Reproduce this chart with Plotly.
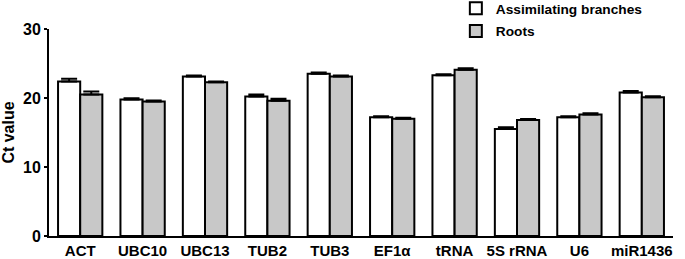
import plotly.graph_objects as go

categories = ["ACT", "UBC10", "UBC13", "TUB2", "TUB3", "EF1α", "tRNA", "5S rRNA", "U6", "miR1436"]
assim = [22.4, 19.8, 23.1, 20.2, 23.5, 17.2, 23.3, 15.5, 17.2, 20.8]
assim_err = [0.4, 0.15, 0.15, 0.3, 0.2, 0.15, 0.15, 0.25, 0.15, 0.2]
roots = [20.5, 19.5, 22.3, 19.6, 23.1, 17.0, 24.1, 16.8, 17.6, 20.1]
roots_err = [0.45, 0.15, 0.1, 0.3, 0.15, 0.15, 0.2, 0.15, 0.2, 0.15]
yticks = [0, 10, 20, 30]

font_family = "Liberation Sans, Arial, sans-serif"

fig = go.Figure()
fig.add_trace(go.Bar(
    name="Assimilating branches", x=categories, y=assim, legendgroup="a",
    marker=dict(color="white", line=dict(color="black", width=2)),
    error_y=dict(type="data", array=assim_err, symmetric=False, arrayminus=[0]*len(assim_err),
                 color="black", thickness=2, width=8),
))
fig.add_trace(go.Bar(
    name="Roots", x=categories, y=roots, legendgroup="b",
    marker=dict(color="#c8c8c8", line=dict(color="black", width=2)),
    error_y=dict(type="data", array=roots_err, symmetric=False, arrayminus=[0]*len(roots_err),
                 color="black", thickness=2, width=8),
))

fig.update_layout(
    width=685, height=259,
    margin=dict(l=49, r=12, t=29, b=23, autoexpand=False),
    paper_bgcolor="white", plot_bgcolor="white",
    barmode="group", bargap=0.29, bargroupgap=0,
    font=dict(family=font_family, size=15, color="black"),
    showlegend=True,
    legend=dict(x=0.652, y=1.175, xanchor="left", yanchor="top",
                bgcolor="rgba(0,0,0,0)", font=dict(size=13.7, family=font_family, weight="bold"),
                tracegroupgap=2, itemwidth=30),
)
fig.update_xaxes(
    range=[-0.5, 9.5], showline=True, linecolor="black", linewidth=2,
    ticks="", tickfont=dict(size=15, family=font_family, weight="bold"),
    showgrid=False, zeroline=False, automargin=False,
)
fig.update_yaxes(
    range=[0, 30], tickvals=yticks, showline=True, linecolor="black", linewidth=2,
    ticks="outside", ticklen=3, tickwidth=2, tickcolor="black",
    tickfont=dict(size=16, family=font_family, weight="bold"),
    title=dict(text="Ct value", font=dict(size=16, family=font_family, weight="bold"), standoff=10),
    showgrid=False, zeroline=False, automargin=False,
)

fig.write_html("out.html", config={"displayModeBar": False},
               post_script="document.body.style.margin='0';")
